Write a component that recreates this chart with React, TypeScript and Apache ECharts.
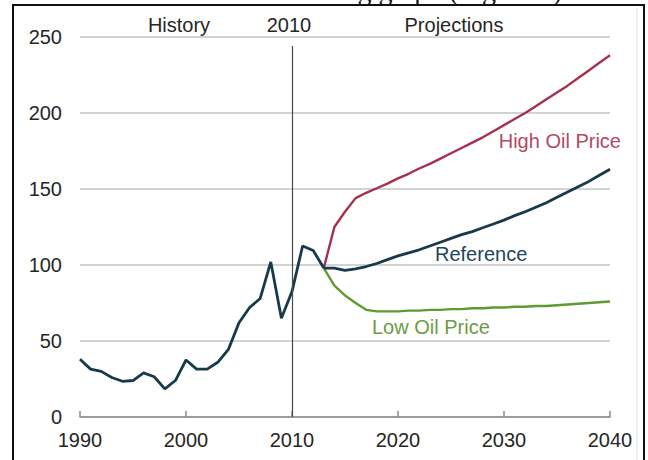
import React, { useEffect, useRef } from "react";
import * as echarts from "echarts";

const historyYears = [1990, 1991, 1992, 1993, 1994, 1995, 1996, 1997, 1998, 1999, 2000, 2001, 2002, 2003, 2004, 2005, 2006, 2007, 2008, 2009, 2010, 2011, 2012, 2013];
const historyValues = [38, 31.5, 30, 26, 23.5, 24, 29, 26.5, 18.5, 24, 37.5, 31.5, 31.5, 36, 44.5, 62, 72, 78, 102, 65, 82.5, 112.5, 109.5, 98];

const projYears = [2013, 2014, 2015, 2016, 2017, 2018, 2019, 2020, 2021, 2022, 2023, 2024, 2025, 2026, 2027, 2028, 2029, 2030, 2031, 2032, 2033, 2034, 2035, 2036, 2037, 2038, 2039, 2040];
const referenceValues = [98, 98, 96.5, 97.5, 99, 101, 103.5, 106, 108, 110, 112.5, 115, 117.5, 120, 122, 124.5, 127, 129.5, 132.5, 135, 138, 141, 144.5, 148, 151.5, 155, 159, 163];
const highValues = [98, 125, 135, 144, 147.5, 150.5, 153.5, 157, 160, 163.5, 166.5, 170, 173.5, 177, 180.5, 184, 188, 192, 196, 200, 204.5, 209, 213.5, 218, 223, 228, 233, 238];
const lowValues = [98, 86.5, 80, 75, 70.5, 69.5, 69.5, 69.5, 70, 70, 70.5, 70.5, 71, 71, 71.5, 71.5, 72, 72, 72.5, 72.5, 73, 73, 73.5, 74, 74.5, 75, 75.5, 76];

const headerLabels = ["History", "2010", "Projections"];
const seriesNames = ["High Oil Price", "Reference", "Low Oil Price"];

const FONT = "'Liberation Sans', Arial, sans-serif";
const NAVY = "#173a4b";
const RED = "#a8304f";
const GREEN = "#5f9a35";

export default function App() {
  const ref = useRef<HTMLDivElement>(null);
  useEffect(() => {
    if (!ref.current) return;
    const chart = echarts.init(ref.current, null, { renderer: "svg" });
    const pair = (xs: number[], ys: number[]) => xs.map((x, i) => [x, ys[i]]);
    chart.setOption({
      animation: false,
      backgroundColor: "#ffffff",
      grid: { left: 80, right: 38, top: 37, bottom: 43, containLabel: false },
      xAxis: {
        type: "value",
        min: 1990,
        max: 2040,
        interval: 10,
        axisLine: { show: true, lineStyle: { color: "#8a8a8a", width: 1.5 } },
        axisTick: { show: true, inside: true, length: 6, lineStyle: { color: "#8a8a8a", width: 1.5 } },
        splitLine: { show: false },
        axisLabel: {
          margin: 13,
          fontSize: 20,
          fontFamily: FONT,
          color: "#262626",
          formatter: (v: number) => String(v),
        },
      },
      yAxis: {
        type: "value",
        min: 0,
        max: 250,
        interval: 50,
        axisLine: { show: false },
        axisTick: { show: false },
        splitLine: { show: true, lineStyle: { color: "#c4c4c4", width: 1.5 } },
        axisLabel: { margin: 18, fontSize: 20, fontFamily: FONT, color: "#262626" },
      },
      series: [
        {
          type: "line",
          name: "History",
          data: pair(historyYears, historyValues),
          symbol: "none",
          lineStyle: { color: NAVY, width: 2.8 },
          z: 4,
          markLine: {
            silent: true,
            symbol: "none",
            label: { show: false },
            lineStyle: { color: "#4a4a4a", width: 1.2, type: "solid" },
            data: [[{ coord: [2010, 0] }, { coord: [2010, 244] }]],
          },
        },
        {
          type: "line",
          name: seriesNames[0],
          data: pair(projYears, highValues),
          symbol: "none",
          lineStyle: { color: RED, width: 2.4 },
          z: 3,
        },
        {
          type: "line",
          name: seriesNames[2],
          data: pair(projYears, lowValues),
          symbol: "none",
          lineStyle: { color: GREEN, width: 2.4 },
          z: 3,
        },
        {
          type: "line",
          name: seriesNames[1],
          data: pair(projYears, referenceValues),
          symbol: "none",
          lineStyle: { color: NAVY, width: 2.8 },
          z: 4,
        },
      ],
      graphic: [
        // page frame
        { type: "rect", shape: { x: 13, y: 5, width: 631, height: 470 }, style: { fill: "none", stroke: "#111", lineWidth: 2 }, silent: true },
        { type: "line", shape: { x1: 637, y1: 8, x2: 637, y2: 460 }, style: { stroke: "#e2e2e2", lineWidth: 1 }, silent: true },
        // cut-off document text above the figure
        {
          type: "text",
          x: 562,
          y: 4,
          style: {
            text: "the following graph (Figure 1)",
            font: "28px 'Liberation Serif', 'Times New Roman', serif",
            fill: "#111",
            align: "right",
            verticalAlign: "bottom",
          },
          silent: true,
        },
        { type: "text", x: 179, y: 25, style: { text: headerLabels[0], font: `20px ${FONT}`, fill: "#262626", align: "center", verticalAlign: "middle" } },
        { type: "text", x: 289, y: 25, style: { text: headerLabels[1], font: `20px ${FONT}`, fill: "#262626", align: "center", verticalAlign: "middle" } },
        { type: "text", x: 454, y: 25, style: { text: headerLabels[2], font: `20px ${FONT}`, fill: "#262626", align: "center", verticalAlign: "middle" } },
        { type: "text", x: 621, y: 141, style: { text: seriesNames[0], font: `20px ${FONT}`, fill: "#b24a64", align: "right", verticalAlign: "middle" } },
        { type: "text", x: 435, y: 254, style: { text: seriesNames[1], font: `20px ${FONT}`, fill: "#23475a", align: "left", verticalAlign: "middle" } },
        { type: "text", x: 372, y: 327, style: { text: seriesNames[2], font: `20px ${FONT}`, fill: "#6e9b45", align: "left", verticalAlign: "middle" } },
      ],
    });
    return () => chart.dispose();
  }, []);
  return (
    <div
      ref={ref}
      style={{ position: "absolute", left: 0, top: 0, width: 648, height: 460, background: "#fff" }}
    />
  );
}
